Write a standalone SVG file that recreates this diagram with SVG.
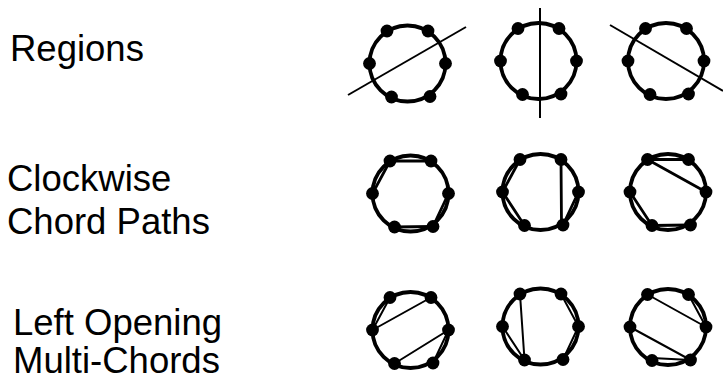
<svg xmlns="http://www.w3.org/2000/svg" xmlns:xlink="http://www.w3.org/1999/xlink" width="723" height="380" viewBox="0 0 723 380">
<style>
.lbl{font-family:"Liberation Sans",Arial,sans-serif;font-size:36.5px;fill:#000}
.ring{fill:none;stroke:#000;stroke-width:3.8}
.dot{fill:#000}
.cut{stroke:#000;stroke-width:2;fill:none}
.ch2{stroke:#000;stroke-width:2.8;fill:none;stroke-linecap:round}
.ch3{stroke:#000;stroke-width:2;fill:none;stroke-linecap:round}
</style>
<defs>
<g id="ring">
<circle class="ring" cx="0" cy="0" r="38"/>
<circle class="dot" cx="-20.5" cy="-32.5" r="6.4"/>
<circle class="dot" cx="20.5" cy="-32.5" r="6.4"/>
<circle class="dot" cx="-38" cy="0" r="6.4"/>
<circle class="dot" cx="38" cy="0" r="6.4"/>
<circle class="dot" cx="-16" cy="33.5" r="6.4"/>
<circle class="dot" cx="22.5" cy="33" r="6.4"/>
</g>
</defs>
<g id="labels">
<text class="lbl" x="10" y="61">Regions</text>
<text class="lbl" x="7" y="191">Clockwise</text>
<text class="lbl" x="7" y="234">Chord Paths</text>
<text class="lbl" x="13" y="335">Left Opening</text>
<text class="lbl" x="13" y="373">Multi-Chords</text>
</g>
<g id="r1c1" transform="translate(407.5,63.5)">
<use xlink:href="#ring" href="#ring"/>
<line class="cut" x1="-59.5" y1="31.5" x2="58.5" y2="-36.5"/>
</g>
<g id="r1c2" transform="translate(538.5,61)">
<use xlink:href="#ring" href="#ring"/>
<line class="cut" x1="1.5" y1="-53" x2="1.5" y2="57"/>
</g>
<g id="r1c3" transform="translate(666,61)">
<use xlink:href="#ring" href="#ring"/>
<line class="cut" x1="-56" y1="-36" x2="57" y2="30"/>
</g>
<g id="r2c1" transform="translate(410.5,193.5)">
<use xlink:href="#ring" href="#ring"/>
<g class="ch2">
<line x1="-20.5" y1="-32.5" x2="20.5" y2="-32.5"/>
<line x1="-20.5" y1="-32.5" x2="-38" y2="0"/>
<line x1="38" y1="0" x2="22.5" y2="33"/>
<line x1="-16" y1="33.5" x2="22.5" y2="33"/>
</g>
</g>
<g id="r2c2" transform="translate(540.5,192)">
<use xlink:href="#ring" href="#ring"/>
<g class="ch2">
<line x1="-20.5" y1="-32.5" x2="-38" y2="0"/>
<line x1="-38" y1="0" x2="-16" y2="33.5"/>
<line x1="20.5" y1="-32.5" x2="21" y2="33"/>
<line x1="38" y1="0" x2="22.5" y2="33"/>
</g>
</g>
<g id="r2c3" transform="translate(668,192)">
<use xlink:href="#ring" href="#ring"/>
<g class="ch2">
<line x1="-20.5" y1="-32.5" x2="20.5" y2="-32.5"/>
<line x1="-20.5" y1="-32.5" x2="38" y2="0"/>
<line x1="-38" y1="0" x2="-16" y2="33.5"/>
<line x1="-16" y1="33.5" x2="22.5" y2="33"/>
</g>
</g>
<g id="r3c1" transform="translate(410.5,330)">
<use xlink:href="#ring" href="#ring"/>
<g class="ch3">
<line x1="-20.5" y1="-32.5" x2="-38" y2="0"/>
<line x1="-38" y1="0" x2="20.5" y2="-32.5"/>
<line x1="38" y1="0" x2="-16" y2="33.5"/>
<line x1="38" y1="0" x2="22.5" y2="33"/>
</g>
</g>
<g id="r3c2" transform="translate(540.5,326.5)">
<use xlink:href="#ring" href="#ring"/>
<g class="ch3">
<line x1="-20.5" y1="-32.5" x2="-16" y2="33.5"/>
<line x1="-38" y1="0" x2="-16" y2="33.5"/>
<line x1="20.5" y1="-32.5" x2="38" y2="0"/>
<line x1="38" y1="0" x2="22.5" y2="33"/>
</g>
</g>
<g id="r3c3" transform="translate(668,327)">
<use xlink:href="#ring" href="#ring"/>
<g class="ch3">
<line x1="-20.5" y1="-32.5" x2="38" y2="0"/>
<line x1="20.5" y1="-32.5" x2="38" y2="0"/>
<line x1="-38" y1="0" x2="22.5" y2="33"/>
<line x1="-16" y1="31" x2="22.5" y2="33"/>
</g>
</g>
<g id="connectors"></g>
</svg>
